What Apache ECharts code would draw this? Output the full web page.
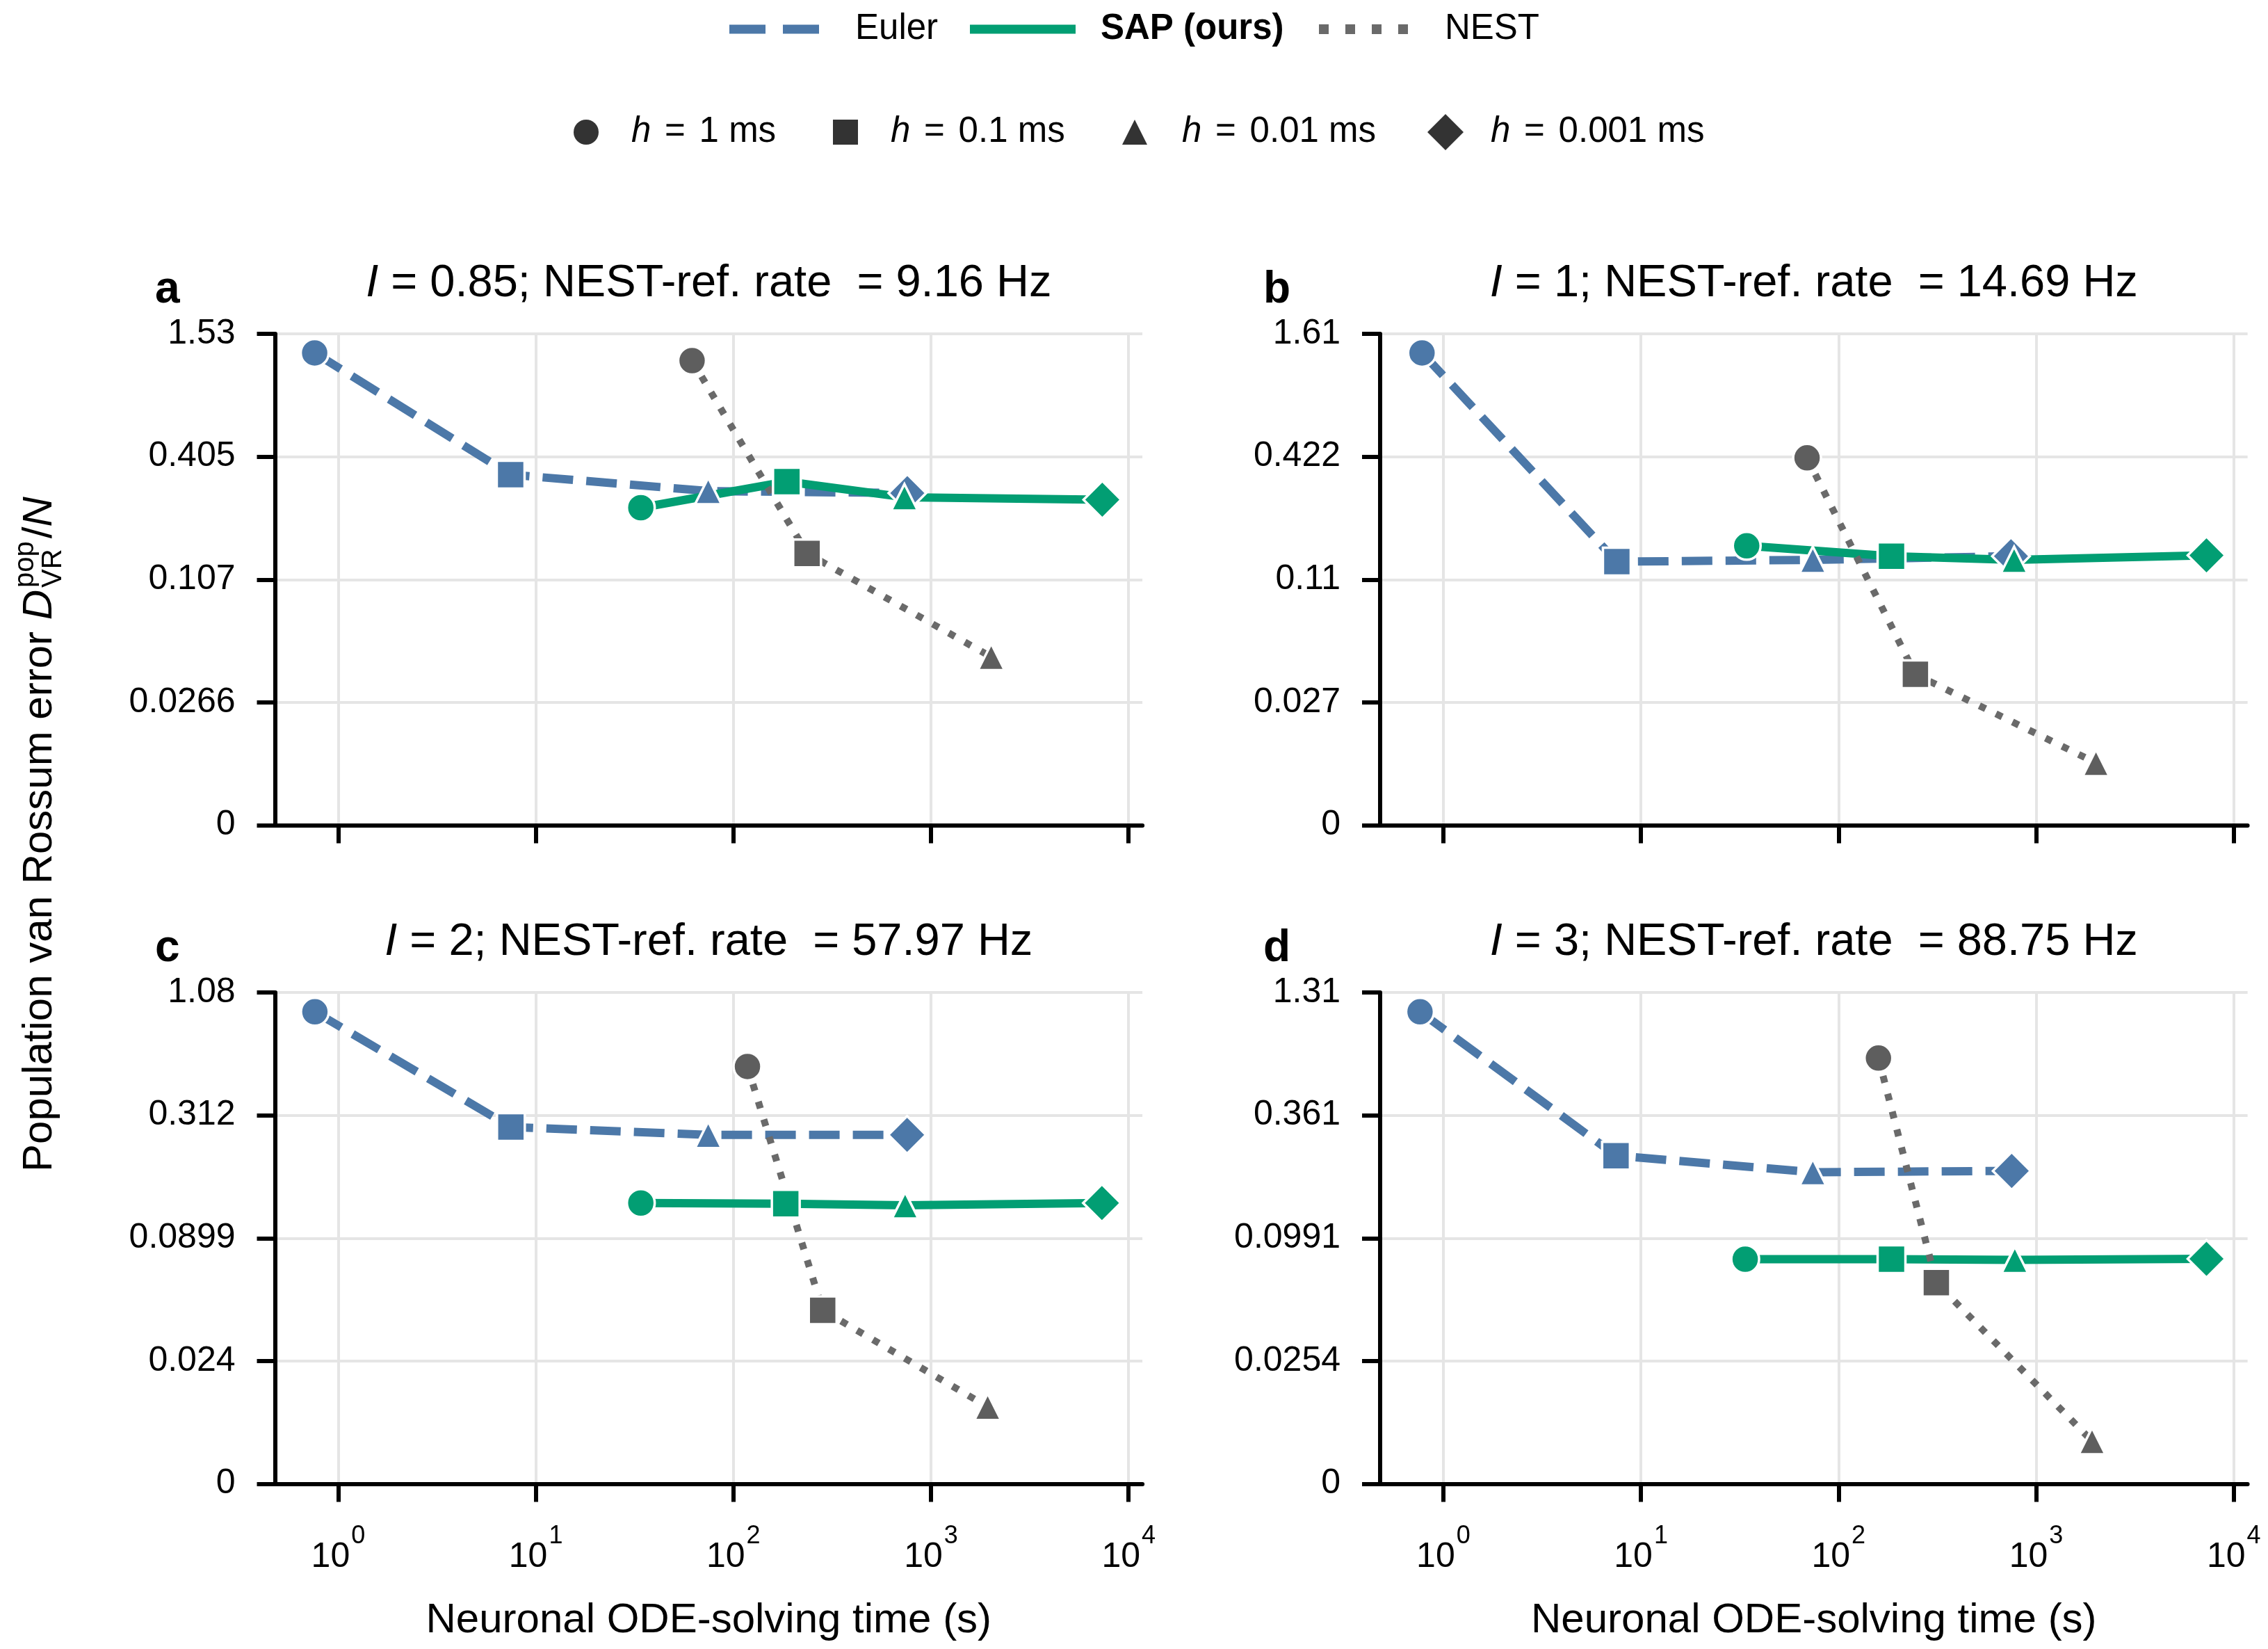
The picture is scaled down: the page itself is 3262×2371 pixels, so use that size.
<!DOCTYPE html>
<html>
<head>
<meta charset="utf-8">
<script src="https://cdn.jsdelivr.net/npm/echarts@6/dist/echarts.min.js"></script>
<style>
html,body{margin:0;padding:0;background:#fff;}
#chart{width:3262px;height:2371px;}
</style>
</head>
<body>
<div id="chart"></div>
<script>
// ---------------- DATA ----------------
const methods = ['Euler', 'SAP (ours)', 'NEST'];
const stepLabels = ['1', '0.1', '0.01', '0.001'];          // h in ms
const panelLetters = ['a', 'b', 'c', 'd'];
const currents = ['0.85', '1', '2', '3'];
const nestRefRates = ['9.16', '14.69', '57.97', '88.75'];
const xTickExponents = [0, 1, 2, 3, 4];

// panel a
const yTicks_a = [0, 0.0266, 0.107, 0.405, 1.53];
const eulerTime_a = [0.760, 7.46, 74.6, 759];
const eulerErr_a  = [1.245, 0.333, 0.279, 0.273];
const sapTime_a   = [34.0, 186.6, 734, 7360];
const sapErr_a    = [0.233, 0.309, 0.261, 0.254];
const nestTime_a  = [61.8, 236, 2018];
const nestErr_a   = [1.145, 0.142, 0.0445];

// panel b
const yTicks_b = [0, 0.027, 0.11, 0.422, 1.61];
const eulerTime_b = [0.780, 7.55, 74.1, 746];
const eulerErr_b  = [1.308, 0.1337, 0.1364, 0.142];
const sapTime_b   = [34.3, 185.4, 774, 7278];
const sapErr_b    = [0.159, 0.142, 0.1364, 0.1434];
const nestTime_b  = [69.3, 244.9, 2009];
const nestErr_b   = [0.4165, 0.0372, 0.0137];

// panel c
const yTicks_c = [0, 0.024, 0.0899, 0.312, 1.08];
const eulerTime_c = [0.762, 7.48, 74.6, 757];
const eulerErr_c  = [0.888, 0.277, 0.256, 0.256];
const sapTime_c   = [34.0, 184.1, 740, 7328];
const sapErr_c    = [0.1283, 0.1274, 0.1253, 0.1283];
const nestTime_c  = [117.8, 283.1, 1936];
const nestErr_c   = [0.511, 0.0414, 0.01505];

// panel d
const yTicks_d = [0, 0.0254, 0.0991, 0.361, 1.31];
const eulerTime_d = [0.762, 7.48, 74.1, 752];
const eulerErr_d  = [1.069, 0.236, 0.1984, 0.201];
const sapTime_d   = [33.7, 185.4, 780, 7278];
const sapErr_d    = [0.0785, 0.0785, 0.0779, 0.0788];
const nestTime_d  = [159.2, 312.6, 1919];
const nestErr_d   = [0.658, 0.0605, 0.00884];

// ---------------- STYLE / LAYOUT ----------------
const FONT = "'Liberation Sans', Arial, Helvetica, sans-serif";
const BLUE = '#4c78a8', GREEN = '#029e73', GREY_LINE = '#6a6a6a', GREY_MK = '#5e5e5e', MK_LEG = '#333333';
const GRID_COLOR = '#e5e5e5';
const shapes = ['circle', 'rect', 'triangle', 'diamond'];
const shapeSize = { circle: 40, rect: 40, triangle: 38, diamond: 54 };

const gridLeft = [395.5, 1985, 395.5, 1985];
const gridTop = [480, 480, 1427, 1427];
const gridW = 1247.6, gridH = 706.5;
const X_MIN = -0.32, X_MAX = 4.07;

const panels = [
  { ticks: yTicks_a, eT: eulerTime_a, eE: eulerErr_a, sT: sapTime_a, sE: sapErr_a, nT: nestTime_a, nE: nestErr_a },
  { ticks: yTicks_b, eT: eulerTime_b, eE: eulerErr_b, sT: sapTime_b, sE: sapErr_b, nT: nestTime_b, nE: nestErr_b },
  { ticks: yTicks_c, eT: eulerTime_c, eE: eulerErr_c, sT: sapTime_c, sE: sapErr_c, nT: nestTime_c, nE: nestErr_c },
  { ticks: yTicks_d, eT: eulerTime_d, eE: eulerErr_d, sT: sapTime_d, sE: sapErr_d, nT: nestTime_d, nE: nestErr_d }
];

// y scale: ticks equally spaced; linear below first tick, logarithmic between ticks
function yScale(v, t) {
  if (v <= t[1]) return v / t[1];
  for (let i = 1; i < t.length - 1; i++) {
    if (v <= t[i + 1] || i === t.length - 2) return i + Math.log(v / t[i]) / Math.log(t[i + 1] / t[i]);
  }
}

const grids = [], xAxes = [], yAxes = [], series = [];

panels.forEach((p, k) => {
  grids.push({ left: gridLeft[k], top: gridTop[k], width: gridW, height: gridH, outerBoundsMode: 'none', containLabel: false });
  const bottomRow = k >= 2;
  xAxes.push({
    type: 'value', gridIndex: k, min: X_MIN, max: X_MAX,
    axisLine: { show: true, onZero: false, lineStyle: { color: '#000', width: 6 } },
    axisTick: { show: true, customValues: xTickExponents, length: 26, inside: false, lineStyle: { color: '#000', width: 6 } },
    axisLabel: {
      show: bottomRow, customValues: xTickExponents, margin: 58,
      formatter: v => '{b|10}{s|' + Math.round(v) + '}',
      rich: {
        b: { fontSize: 50, fontFamily: FONT, color: '#000', lineHeight: 96, verticalAlign: 'middle' },
        s: { fontSize: 36, fontFamily: FONT, color: '#000', lineHeight: 36, verticalAlign: 'top', padding: [0, 0, 0, 2] }
      }
    },
    splitLine: { show: true, lineStyle: { color: GRID_COLOR, width: 4 } }
  });
  yAxes.push({
    type: 'value', gridIndex: k, min: 0, max: p.ticks.length - 1, interval: 1,
    axisLine: { show: true, onZero: false, lineStyle: { color: '#000', width: 6 } },
    axisTick: { show: true, length: 26, inside: false, lineStyle: { color: '#000', width: 6 } },
    axisLabel: {
      show: true, margin: 57, fontSize: 50, fontFamily: FONT, color: '#000',
      formatter: v => String(p.ticks[Math.round(v)])
    },
    splitLine: { show: true, lineStyle: { color: GRID_COLOR, width: 4 } }
  });

  const toPts = (T, E) => T.map((t, i) => [Math.log10(t), yScale(E[i], p.ticks)]);
  const eP = toPts(p.eT, p.eE), sP = toPts(p.sT, p.sE), nP = toPts(p.nT, p.nE);
  const common = { xAxisIndex: k, yAxisIndex: k, animation: false, silent: true };

  series.push(Object.assign({ type: 'line', name: methods[0], data: eP, symbol: 'none', z: 2,
    lineStyle: { color: BLUE, width: 12, type: [44, 19], cap: 'butt' } }, common));
  series.push(Object.assign({ type: 'line', name: methods[1], data: sP, symbol: 'none', z: 2,
    lineStyle: { color: GREEN, width: 12, type: 'solid' } }, common));
  series.push(Object.assign({ type: 'line', name: methods[2], data: nP, symbol: 'none', z: 2,
    lineStyle: { color: GREY_LINE, width: 10, type: [10, 16.5], cap: 'butt' } }, common));

  const mk = (pts) => pts.map((pt, i) => ({ value: pt, symbol: shapes[i], symbolSize: shapeSize[shapes[i]] }));
  [[eP, BLUE], [sP, GREEN], [nP, GREY_MK]].forEach(([pts, col], m) => {
    series.push(Object.assign({ type: 'scatter', name: methods[m], data: mk(pts), z: 3,
      itemStyle: { color: col, borderColor: '#ffffff', borderWidth: 3.5, opacity: 1 } }, common));
  });
});

// ---------------- TEXT / LEGEND (graphic) ----------------
const graphic = [];
function txt(x, y, text, fs, opts) {
  opts = opts || {};
  return {
    type: 'text', x: x, y: y, silent: true,
    style: Object.assign({
      text: text, fontSize: fs, fontFamily: FONT, fill: '#000',
      fontWeight: opts.weight || 'normal', fontStyle: opts.style || 'normal',
      align: opts.align || 'left', verticalAlign: 'middle'
    }, opts.rich ? { rich: opts.rich } : {})
  };
}
function italicRich(fs) {
  return {
    i: { fontStyle: 'italic', fontSize: fs, fontFamily: FONT, fill: '#000', color: '#000' },
    sp: { fontSize: Math.round(fs * 1.4), fontFamily: FONT, fill: '#000', color: '#000', lineHeight: fs }
  };
}

// panel titles, letters, x-axis titles
panels.forEach((p, k) => {
  const cx = gridLeft[k] + gridW / 2;
  const ty = k < 2 ? 408 : 1355;
  graphic.push(txt(cx, ty, '{i|I} = ' + currents[k] + '; NEST-ref. rate  = ' + nestRefRates[k] + ' Hz', 65,
    { align: 'center', rich: italicRich(65) }));
  graphic.push(txt(k % 2 === 0 ? 223 : 1817, k < 2 ? 417 : 1364, panelLetters[k], 64, { weight: 'bold' }));
  if (k >= 2) graphic.push(txt(cx, 2330, 'Neuronal ODE-solving time (s)', 60, { align: 'center' }));
});

// legend row 1 (line styles)
const L1 = 42;
graphic.push({ type: 'line', silent: true, shape: { x1: 1049, y1: L1, x2: 1178, y2: L1 },
  style: { stroke: BLUE, lineWidth: 13, lineDash: [52, 25], lineCap: 'butt' } });
graphic.push(txt(1230, L1, methods[0], 51));
graphic.push({ type: 'line', silent: true, shape: { x1: 1395, y1: L1, x2: 1547, y2: L1 },
  style: { stroke: GREEN, lineWidth: 13, lineCap: 'butt' } });
graphic.push(txt(1583, L1, methods[1], 51, { weight: 'bold' }));
graphic.push({ type: 'line', silent: true, shape: { x1: 1897, y1: L1, x2: 2025, y2: L1 },
  style: { stroke: GREY_LINE, lineWidth: 14, lineDash: [14, 24], lineCap: 'butt' } });
graphic.push(txt(2078, L1, methods[2], 51));

// legend row 2 (markers for step size h)
const L2 = 190;
const mkX = [843, 1216, 1632, 2079];
const lbX = [908, 1281, 1700, 2144];
graphic.push({ type: 'circle', silent: true, shape: { cx: mkX[0], cy: L2, r: 18 }, style: { fill: MK_LEG } });
graphic.push({ type: 'rect', silent: true, shape: { x: mkX[1] - 18, y: L2 - 18, width: 36, height: 36 }, style: { fill: MK_LEG } });
graphic.push({ type: 'polygon', silent: true, shape: { points: [[mkX[2], L2 - 18], [mkX[2] + 18, L2 + 18], [mkX[2] - 18, L2 + 18]] }, style: { fill: MK_LEG } });
graphic.push({ type: 'polygon', silent: true, shape: { points: [[mkX[3], L2 - 26], [mkX[3] + 26, L2], [mkX[3], L2 + 26], [mkX[3] - 26, L2]] }, style: { fill: MK_LEG } });
stepLabels.forEach((h, i) => {
  graphic.push(txt(lbX[i], L2, '{i|h}{sp| }={sp| }' + h + ' ms', 51, { rich: italicRich(51) }));
});

// rotated y-axis title: Population van Rossum error D^pop_VR / N
const mctx = document.createElement('canvas').getContext('2d');
function tw(text, fs, style) { mctx.font = (style || 'normal') + ' normal ' + fs + 'px ' + FONT; return mctx.measureText(text).width; }
const yPart1 = 'Population van Rossum error ';
const YFS = 60, SFS = 40;
const w1 = tw(yPart1, YFS), wD = tw('D', YFS, 'italic'), wVR = tw('VR', SFS), wPop = tw('pop', SFS);
const xScript = w1 + wD + 3;
const xAfter = xScript + Math.max(wVR, wPop) + 4;
const wSlash = tw('/', YFS);
function ltxt(x, y, text, fs, style) {
  return { type: 'text', x: x, y: y, silent: true,
    style: { text: text, fontSize: fs, fontFamily: FONT, fill: '#000', fontStyle: style || 'normal', align: 'left', verticalAlign: 'middle' } };
}
graphic.push({
  type: 'group', x: 78, y: 1685, rotation: Math.PI / 2, silent: true,
  children: [
    ltxt(0, -21, yPart1, YFS),
    ltxt(w1, -21, 'D', YFS, 'italic'),
    ltxt(xScript, 13 - 14, 'VR', SFS),
    ltxt(xScript, -27 - 14, 'pop', SFS),
    ltxt(xAfter, -21, '/', YFS),
    ltxt(xAfter + wSlash, -21, 'N', YFS, 'italic')
  ]
});

const chart = echarts.init(document.getElementById('chart'), null, { renderer: 'canvas', width: 3262, height: 2371 });
chart.setOption({
  backgroundColor: '#ffffff',
  animation: false,
  tooltip: { show: false },
  grid: grids,
  xAxis: xAxes,
  yAxis: yAxes,
  series: series,
  graphic: graphic
});
</script>
</body>
</html>
